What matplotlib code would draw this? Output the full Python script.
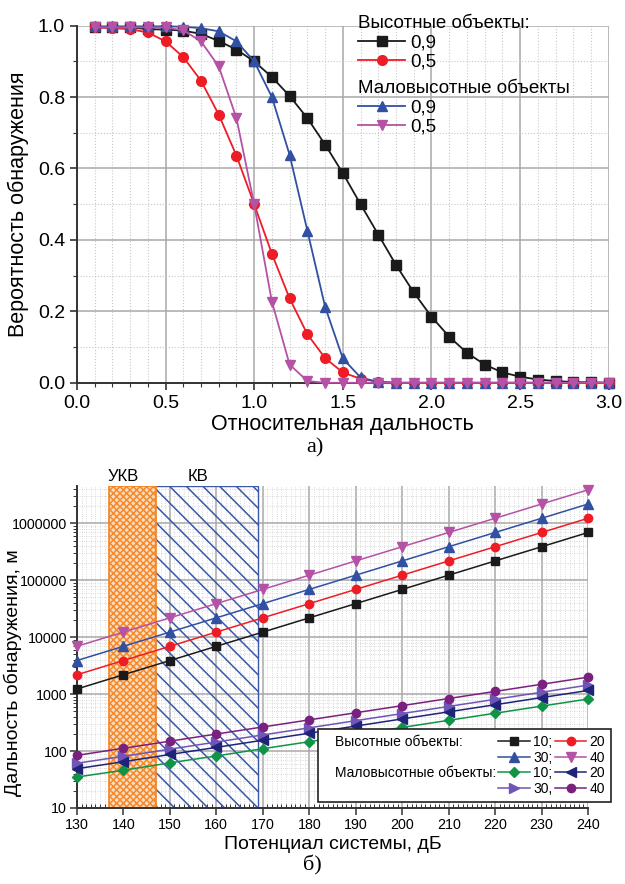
import matplotlib
matplotlib.use("Agg")
import matplotlib.pyplot as plt
from matplotlib.patches import Rectangle
from matplotlib.ticker import MultipleLocator, FixedLocator, FuncFormatter, LogLocator, NullFormatter

plt.rcParams['font.family'] = ['Liberation Sans', 'DejaVu Sans']
plt.rcParams['hatch.linewidth'] = 1.1

# --- panel a) detection probability vs relative range
rel_range = [0.1, 0.2, 0.3, 0.4, 0.5, 0.6, 0.7, 0.8, 0.9, 1.0,
             1.1, 1.2, 1.3, 1.4, 1.5, 1.6, 1.7, 1.8, 1.9, 2.0,
             2.1, 2.2, 2.3, 2.4, 2.5, 2.6, 2.7, 2.8, 2.9, 3.0]
high_09 = [0.995, 0.995, 0.995, 0.99, 0.989, 0.986, 0.977, 0.957, 0.933, 0.9,
           0.856, 0.803, 0.741, 0.667, 0.587, 0.5, 0.415, 0.33, 0.253, 0.185,
           0.129, 0.084, 0.051, 0.029, 0.017, 0.009, 0.005, 0.002, 0.001, 0.0]
high_05 = [0.995, 0.993, 0.99, 0.981, 0.956, 0.912, 0.846, 0.751, 0.636, 0.5,
           0.361, 0.236, 0.136, 0.069, 0.029, 0.011, 0.003, 0.0, 0.0, 0.0,
           0.0, 0.0, 0.0, 0.0, 0.0, 0.0, 0.0, 0.0, 0.0, 0.0]
low_09 = [0.998, 0.998, 0.998, 0.998, 0.998, 0.997, 0.993, 0.984, 0.956, 0.9,
          0.8, 0.638, 0.426, 0.213, 0.068, 0.015, 0.002, 0.0, 0.0, 0.0,
          0.0, 0.0, 0.0, 0.0, 0.0, 0.0, 0.0, 0.0, 0.0, 0.0]
low_05 = [0.995, 0.995, 0.995, 0.995, 0.995, 0.987, 0.956, 0.886, 0.741, 0.5,
          0.227, 0.051, 0.005, 0.0, 0.0, 0.0, 0.0, 0.0, 0.0, 0.0,
          0.0, 0.0, 0.0, 0.0, 0.0, 0.0, 0.0, 0.0, 0.0, 0.0]

# --- panel b) detection range vs system potential
potential = [130, 140, 150, 160, 170, 180, 190, 200, 210, 220, 230, 240]
high_10 = [1230, 2190, 3890, 6920, 12300, 21900, 38900, 69200, 123000, 219000, 389000, 692000]
high_20 = [2190, 3890, 6920, 12300, 21900, 38900, 69200, 123000, 219000, 389000, 692000, 1230000]
high_30 = [3890, 6920, 12300, 21900, 38900, 69200, 123000, 219000, 389000, 692000, 1230000, 2190000]
high_40 = [6920, 12300, 21900, 38900, 69200, 123000, 219000, 389000, 692000, 1230000, 2190000, 3890000]
low_10 = [35, 46, 62, 82, 110, 146, 195, 260, 347, 462, 616, 822]
low_20 = [49, 65, 87, 116, 155, 206, 275, 367, 489, 652, 870, 1160]
low_30 = [61, 81, 108, 144, 192, 256, 342, 456, 608, 811, 1080, 1440]
low_40 = [84, 112, 149, 199, 265, 353, 471, 628, 838, 1117, 1490, 1987]
ukv_band = (137, 147)
kv_band = (146, 169)

fig = plt.figure(figsize=(6.25, 8.84), dpi=100)

# ================= panel a
ax1 = fig.add_axes([0.123, 0.567, 0.851, 0.404])
ax1.plot(rel_range, high_09, color='#1a1a1a', marker='s', ms=6.5, lw=1.3, clip_on=False, zorder=5)
ax1.plot(rel_range, high_05, color='#ee1c25', marker='o', ms=7, lw=1.3, clip_on=False, zorder=5)
ax1.plot(rel_range, low_09, color='#3150a2', marker='^', ms=7.5, lw=1.3, clip_on=False, zorder=5)
ax1.plot(rel_range, low_05, color='#b552a5', marker='v', ms=7.5, lw=1.3, clip_on=False, zorder=5)
ax1.set_xlim(0, 3.0)
ax1.set_ylim(0, 1.0)
ax1.xaxis.set_major_locator(MultipleLocator(0.5))
ax1.xaxis.set_minor_locator(MultipleLocator(0.1))
ax1.yaxis.set_major_locator(MultipleLocator(0.2))
ax1.yaxis.set_minor_locator(MultipleLocator(0.1))
ax1.xaxis.set_major_formatter(FuncFormatter(lambda v, p: f'{v:.1f}'))
ax1.yaxis.set_major_formatter(FuncFormatter(lambda v, p: f'{v:.1f}'))
ax1.grid(which='major', color='#a8a8a8', lw=1.1)
ax1.grid(which='minor', color='#c8c8c8', lw=0.8, ls=':')
ax1.set_axisbelow(True)
for s in ('top', 'right'):
    ax1.spines[s].set_visible(False)
for s in ('left', 'bottom'):
    ax1.spines[s].set_color('#333333')
    ax1.spines[s].set_linewidth(1.4)
ax1.tick_params(which='major', labelsize=14, length=5, width=1.2, color='#333333')
ax1.tick_params(which='minor', length=3, width=0.8, color='#333333')
ax1.set_xlabel('Относительная дальность', fontsize=15.5, labelpad=2)
ax1.set_ylabel('Вероятность обнаружения', fontsize=15.5, labelpad=6)

h = ax1.get_lines()
leg_kw = dict(alignment='left', loc='upper left', frameon=False, fontsize=13.5,
              title_fontsize=13.5, handlelength=2.5, handletextpad=0.3,
              borderaxespad=0, borderpad=0, labelspacing=0.12)
leg_a1 = ax1.legend(h[:2], ['0,9', '0,5'], title='Высотные объекты:',
                    bbox_to_anchor=(0.529, 1.03), **leg_kw)
ax1.add_artist(leg_a1)
ax1.legend(h[2:], ['0,9', '0,5'], title='Маловысотные объекты',
           bbox_to_anchor=(0.529, 0.848), **leg_kw)
fig.text(0.504, 0.493, 'а)', ha='center', va='center', fontsize=16, family='Liberation Serif')

# ================= panel b
ax2 = fig.add_axes([0.123, 0.086, 0.818, 0.364])
ax2.set_yscale('log')
ax2.add_patch(Rectangle((kv_band[0], 10), kv_band[1] - kv_band[0], 4.5e6 - 10,
                        facecolor='none', edgecolor='#3a58a8', hatch='\\\\', lw=1.0, zorder=2))
ax2.add_patch(Rectangle((ukv_band[0], 10), ukv_band[1] - ukv_band[0], 4.5e6 - 10,
                        facecolor='#fbdcbc', edgecolor='#f5821f', hatch='xxxxx', lw=1.3, alpha=0.92, zorder=2))

series = [
    (high_10, '#1a1a1a', 's', '10;'),
    (high_30, '#3150a2', '^', '30;'),
    (low_10, '#0f9447', 'D', '10;'),
    (low_30, '#6f55b5', '>', '30,'),
    (high_20, '#ee1c25', 'o', '20'),
    (high_40, '#b552a5', 'v', '40'),
    (low_20, '#1f237a', '<', '20'),
    (low_40, '#7a217f', 'o', '40'),
]
lines2 = []
for vals, col, mk, lab in series:
    ms = 6 if mk in ('s', 'o') else 6.5
    if mk == 'D':
        ms = 5.5
    ln, = ax2.plot(potential, vals, color=col, marker=mk, ms=ms, lw=1.1, label=lab, clip_on=False, zorder=5)
    lines2.append(ln)

ax2.set_xlim(130, 240)
ax2.set_ylim(10, 4.5e6)
ax2.xaxis.set_major_locator(MultipleLocator(10))
ax2.xaxis.set_minor_locator(MultipleLocator(1))
ax2.yaxis.set_major_locator(FixedLocator([10, 100, 1000, 10000, 100000, 1000000]))
ax2.yaxis.set_major_formatter(FuncFormatter(lambda v, p: f'{int(round(v))}'))
ax2.yaxis.set_minor_locator(LogLocator(base=10, subs=[2, 3, 4, 5, 6, 7, 8, 9], numticks=20))
ax2.yaxis.set_minor_formatter(NullFormatter())
ax2.grid(which='major', color='#a8a8a8', lw=1.1)
ax2.grid(which='minor', color='#cfcfcf', lw=0.6, ls=':')
ax2.set_axisbelow(True)
for s in ('top', 'right'):
    ax2.spines[s].set_visible(False)
for s in ('left', 'bottom'):
    ax2.spines[s].set_color('#333333')
    ax2.spines[s].set_linewidth(1.4)
ax2.tick_params(which='major', labelsize=10.3, length=5, width=1.1, color='#333333', pad=2)
ax2.tick_params(which='minor', length=3, width=0.7, color='#333333')
ax2.tick_params(axis='x', which='minor', direction='in')
ax2.set_xlabel('Потенциал системы, дБ', fontsize=14, labelpad=3)
ax2.set_ylabel('Дальность обнаружения, м', fontsize=14)
ax2.yaxis.set_label_coords(-0.108, 0.42)

ax2.text(140, 1.006, 'УКВ', transform=ax2.get_xaxis_transform(),
         ha='center', va='bottom', fontsize=12)
ax2.text(156, 1.006, 'КВ', transform=ax2.get_xaxis_transform(),
         ha='center', va='bottom', fontsize=12)

blank = plt.Line2D([], [], linestyle='none')
leg_handles = [blank, blank, blank, blank] + lines2
leg_labels = ['Высотные объекты:', ' ', 'Маловысотные объекты:', ' '] + [s[3] for s in series]
leg = ax2.legend(leg_handles, leg_labels, ncol=3, loc='lower right', bbox_to_anchor=(1.045, 0.018),
                 fontsize=10, handlelength=2.3, handletextpad=0.2, columnspacing=0.15,
                 labelspacing=0.12, borderpad=0.45, fancybox=False, framealpha=1,
                 edgecolor='#222222', borderaxespad=0)
leg.get_frame().set_linewidth(1.2)
leg.set_zorder(10)
# header column: no handle space, only a small indent
first_col = leg._legend_handle_box.get_children()[0]
for item in first_col.get_children():
    item.sep = 0
    item.get_children()[0].width = 8

fig.text(0.5, 0.021, 'б)', ha='center', va='center', fontsize=16, family='Liberation Serif')

fig.savefig('out.png', dpi=100)
